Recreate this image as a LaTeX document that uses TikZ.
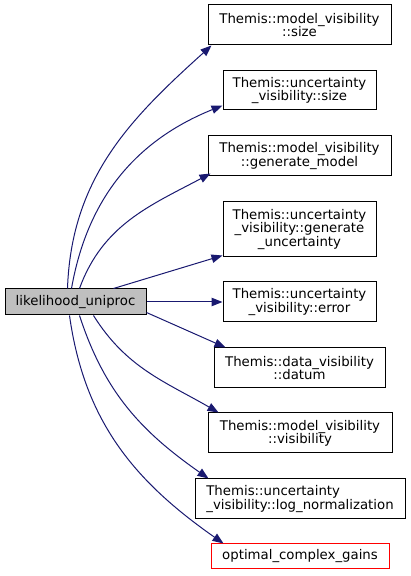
\documentclass[tikz,border=0pt]{standalone}
\usepackage{fontspec}
\setmainfont{DejaVu Sans}
\usepackage{tikz}
\usetikzlibrary{positioning,arrows.meta}
\usepackage{xcolor}
\definecolor{edgeblue}{HTML}{191970}
\definecolor{nodegray}{HTML}{BFBFBF}
\definecolor{linkred}{HTML}{FF0000}

\begin{document}
\begin{tikzpicture}[x=1pt,y=1pt,
        fn/.style={draw=black, line width=1pt, fill=white, align=center, inner sep=0pt,
            font=\fontsize{13.3}{13.3}\selectfont},
        call/.style={draw=edgeblue, line width=1pt, -{Triangle[length=11pt,width=8.5pt]}}]
        \useasboundingbox (0,0) rectangle (411,576);

        % caller
        \node[fn, fill=nodegray, minimum width=141, minimum height=26] (uniproc) at (75.5,274) {likelihood\_uniproc};

        % callees
        \node[fn, minimum width=183, minimum height=40] (msize) at (299.5,551) {Themis::model\_visibility\\::size};
        \node[fn, minimum width=153, minimum height=39] (usize) at (299.5,485.5) {Themis::uncertainty\\\_visibility::size};
        \node[fn, minimum width=183, minimum height=40] (mgen) at (299.5,420) {Themis::model\_visibility\\::generate\_model};
        \node[fn, minimum width=153, minimum height=55] (ugen) at (299.5,346.5) {Themis::uncertainty\\\_visibility::generate\\\_uncertainty};
        \node[fn, minimum width=153, minimum height=40] (uerr) at (299.5,274) {Themis::uncertainty\\\_visibility::error};
        \node[fn, minimum width=171, minimum height=40] (datum) at (299.5,208) {Themis::data\_visibility\\::datum};
        \node[fn, minimum width=184, minimum height=40] (mvis) at (300,143) {Themis::model\_visibility\\::visibility};
        \node[fn, align=left, minimum width=210, minimum height=40] (ulog) at (300,77) {Themis::uncertainty\\\_visibility::log\_normalization};
        \node[fn, draw=linkred, minimum width=178, minimum height=25] (gains) at (300,19.5) {optimal\_complex\_gains};

        % calls
        \draw[call] ([xshift=-8pt]uniproc.north) to[out=88,in=222] ([xshift=4pt]msize.south west);
        \draw[call] ([xshift=-4pt]uniproc.north) to[out=80,in=202] ([yshift=5pt]usize.south west);
        \draw[call] ([xshift=4pt]uniproc.north) to[out=70,in=208] ([shift={(3pt,3pt)}]mgen.south west);
        \draw[call] ([xshift=38pt]uniproc.north) -- ([yshift=2pt]ugen.south west);
        \draw[call] (uniproc.east) -- (uerr.west);
        \draw[call] ([yshift=3pt]uniproc.south east) -- ([xshift=12pt]datum.north west);
        \draw[call] ([xshift=18pt]uniproc.south) to[out=-58,in=150] ([xshift=11pt]mvis.north west);
        \draw[call] ([xshift=4pt]uniproc.south) to[out=-72,in=145] ([xshift=14pt]ulog.north west);
        \draw[call] ([xshift=-6pt]uniproc.south) to[out=-82,in=145] ([xshift=13pt]gains.north west);
    \end{tikzpicture}
\end{document}
